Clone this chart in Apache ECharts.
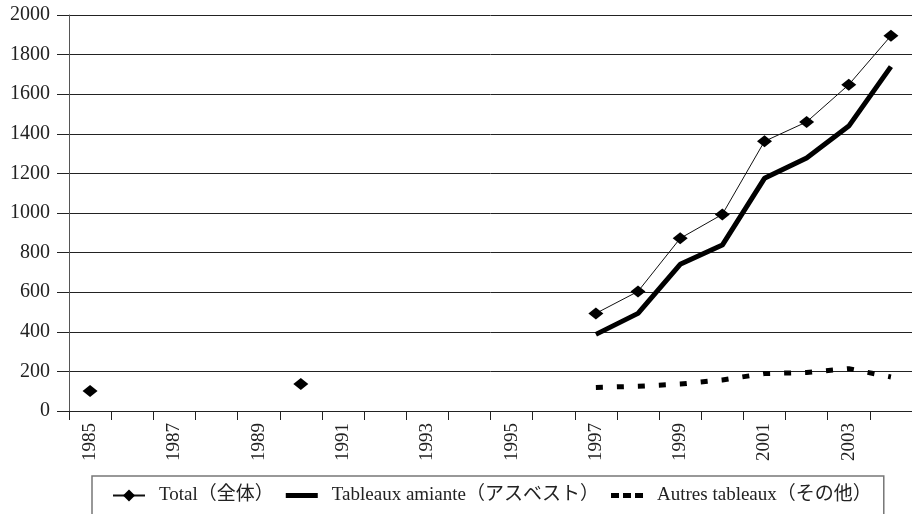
<!DOCTYPE html>
<html>
<head>
<meta charset="utf-8">
<script src="https://cdn.jsdelivr.net/npm/echarts@6/dist/echarts.min.js"></script>
<style>
html,body{margin:0;padding:0;background:#fff;}
#chart{width:912px;height:514px;}
</style>
</head>
<body>
<div id="chart"></div>
<script>
var years = ['1985','1986','1987','1988','1989','1990','1991','1992','1993','1994','1995','1996','1997','1998','1999','2000','2001','2002','2003','2004'];
var totalValues = [101, null, null, null, null, 136, null, null, null, null, null, null, 493, 604, 872, 993, 1362, 1460, 1648, 1895];
var amianteValues = [null, null, null, null, null, null, null, null, null, null, null, null, 387, 493, 741, 838, 1175, 1278, 1439, 1739];
var autresValues = [null, null, null, null, null, null, null, null, null, null, null, null, 119, 125, 136, 157, 189, 194, 214, 172];
var seriesNames = ['Total（全体）', 'Tableaux amiante（アスベスト）', 'Autres tableaux（その他）'];
var yTicks = {min: 0, max: 2000, interval: 200};

var FONT = "'Liberation Serif', 'DejaVu Serif', 'Noto Sans CJK JP', serif";
var chart = echarts.init(document.getElementById('chart'), null, {renderer: 'canvas'});
chart.setOption({
  animation: false,
  backgroundColor: '#ffffff',
  textStyle: {fontFamily: FONT},
  grid: {left: 69, right: 0, top: 15, bottom: 103, containLabel: false},
  legend: {
    left: 92,
    top: 476,
    orient: 'horizontal',
    data: [
      {name: seriesNames[0]},
      {name: seriesNames[1], icon: 'path://M0,0h32v5h-32z'},
      {name: seriesNames[2], icon: 'path://M0,0h8v5h-8z M12,0h8v5h-8z M24,0h8v5h-8z'}
    ],
    borderColor: '#777',
    borderWidth: 1.5,
    padding: [10, 12, 30, 20],
    itemWidth: 32,
    itemHeight: 15,
    itemGap: 12,
    textStyle: {fontFamily: FONT, fontSize: 19, color: '#222', padding: [0, 0, 0, 9]}
  },
  xAxis: {
    type: 'category',
    data: years,
    boundaryGap: true,
    axisLine: {show: true, lineStyle: {color: '#222', width: 1}},
    axisTick: {show: true, interval: 0, length: 9, inside: false, alignWithLabel: false, lineStyle: {color: '#222', width: 1}},
    axisLabel: {interval: 1, rotate: 90, margin: 12, fontFamily: FONT, fontSize: 19, color: '#222'},
    splitLine: {show: false}
  },
  yAxis: {
    type: 'value',
    min: yTicks.min,
    max: yTicks.max,
    interval: yTicks.interval,
    axisLine: {show: true, lineStyle: {color: '#555', width: 1}},
    axisTick: {show: true, length: 12, inside: false, lineStyle: {color: '#222', width: 1}},
    axisLabel: {margin: 19, fontFamily: FONT, fontSize: 20, color: '#222', formatter: function (v) { return String(v); }},
    splitLine: {show: true, lineStyle: {color: '#222', width: 1}}
  },
  series: [
    {
      name: seriesNames[0],
      type: 'line',
      data: totalValues,
      connectNulls: false,
      showAllSymbol: true,
      symbol: 'diamond',
      symbolSize: [15, 12],
      lineStyle: {color: '#111', width: 1},
      itemStyle: {color: '#000'},
      z: 3
    },
    {
      name: seriesNames[1],
      type: 'line',
      data: amianteValues,
      connectNulls: false,
      symbol: 'none',
      lineStyle: {color: '#000', width: 5},
      itemStyle: {color: '#000'},
      z: 2
    },
    {
      name: seriesNames[2],
      type: 'line',
      data: autresValues,
      connectNulls: false,
      symbol: 'none',
      lineStyle: {color: '#000', width: 5, type: [7, 14]},
      itemStyle: {color: '#000'},
      z: 2
    }
  ]
});
</script>
</body>
</html>
